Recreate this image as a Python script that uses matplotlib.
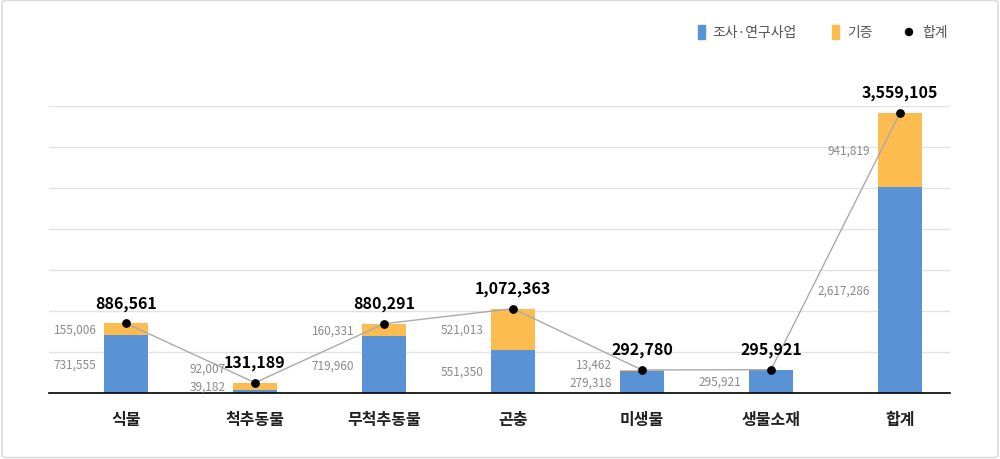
import matplotlib.pyplot as plt
import matplotlib.patches as mpatches
import numpy as np

plt.rcParams['font.family'] = ['Noto Sans CJK KR', 'DejaVu Sans']

# 데이터
categories = ['식물', '척추동물', '무척추동물', '곤충', '미생물', '생물소재', '합계']
research = [731555, 39182, 719960, 551350, 279318, 295921, 2617286]
donation = [155006, 92007, 160331, 521013, 13462, 0, 941819]
totals = [886561, 131189, 880291, 1072363, 292780, 295921, 3559105]

blue = '#5A93D5'
orange = '#FCBC50'
gray_txt = '#8a8a8a'

fig = plt.figure(figsize=(10, 4.6), dpi=100)
border = mpatches.FancyBboxPatch((0.002, 0.003), 0.996, 0.994, boxstyle='round,pad=0,rounding_size=0.006',
                                 transform=fig.transFigure, facecolor='white', edgecolor='#dcdcdc', lw=1.2,
                                 zorder=-10)
fig.patches.append(border)
ax = fig.add_axes([0.049, 0.1435, 0.901, 0.624])
ax.set_facecolor('none')

x = np.arange(len(categories))
w = 0.34
ax.bar(x, research, w, color=blue, zorder=2)
ax.bar(x, donation, w, bottom=research, color=orange, zorder=2)
ax.plot(x, totals, color='#aaaaaa', lw=1, zorder=3)
ax.scatter(x, totals, s=28, color='black', zorder=4)

top = totals[-1] * 287 / 280
ax.set_ylim(0, top)
ax.set_xlim(-0.597, 6.388)
ax.set_yticks(np.linspace(0, top, 8))
ax.grid(axis='y', color='#e2e2e2', lw=1, zorder=0)
ax.set_yticklabels([])
ax.tick_params(length=0)
ax.set_xticks(x)
ax.set_xticklabels(categories, fontsize=11.5, color='#222222', fontweight='bold')
ax.tick_params(axis='x', pad=13)
for s in ['top', 'right', 'left']:
    ax.spines[s].set_visible(False)
ax.spines['bottom'].set_color('black')
ax.spines['bottom'].set_linewidth(1.2)

# 라벨
for i in range(len(categories)):
    ax.annotate(f'{totals[i]:,}', (x[i], totals[i]), xytext=(0, 9), textcoords='offset points',
                ha='center', va='bottom', fontsize=11.5, fontweight='bold', color='black', zorder=5)
    lx = x[i] - w / 2 - 0.06
    by = max(research[i] / 2, 90000)
    ax.text(lx, by, f'{research[i]:,}', ha='right', va='center', fontsize=8.5, color=gray_txt)
    if donation[i] > 0:
        oy = max(research[i] + donation[i] / 2, by + 230000)
        ax.text(lx, oy, f'{donation[i]:,}', ha='right', va='center', fontsize=8.5, color=gray_txt)

# 범례
fig.patches.append(mpatches.Rectangle((0.698, 1 - 40 / 460), 0.007, 14 / 460, transform=fig.transFigure, color=blue))
fig.text(0.712, 1 - 33 / 460, '조사·연구사업', fontsize=10, color='#555555', va='center')
fig.patches.append(mpatches.Rectangle((0.832, 1 - 40 / 460), 0.007, 14 / 460, transform=fig.transFigure, color=orange))
fig.text(0.847, 1 - 33 / 460, '기증', fontsize=10, color='#555555', va='center')
fig.patches.append(mpatches.Ellipse((0.909, 1 - 33 / 460), 0.007, 7 / 460, transform=fig.transFigure, color='black'))
fig.text(0.922, 1 - 33 / 460, '합계', fontsize=10, color='#555555', va='center')

fig.savefig('out.png', dpi=100)
